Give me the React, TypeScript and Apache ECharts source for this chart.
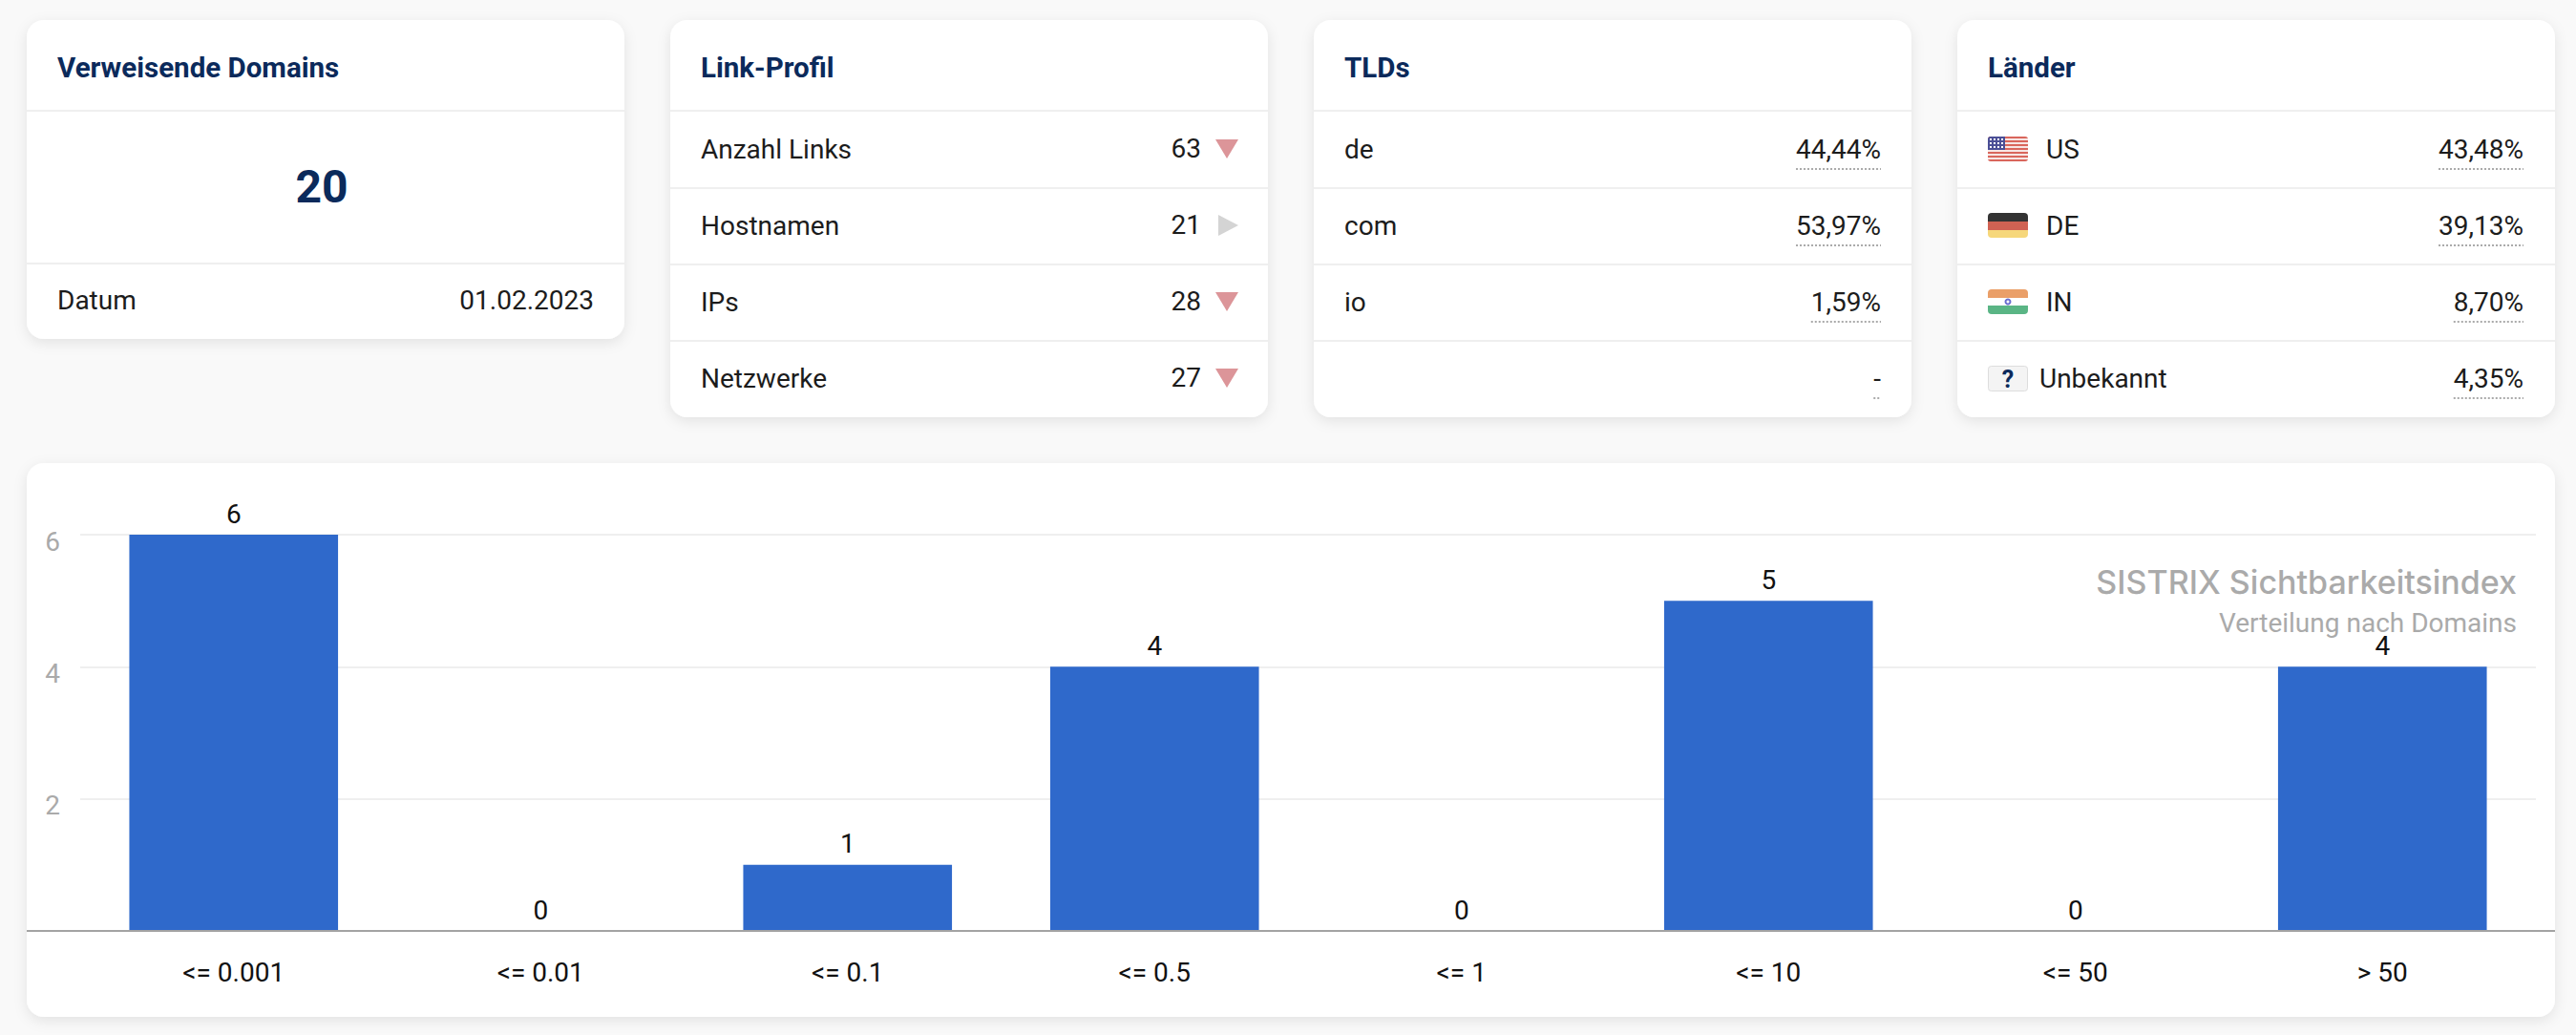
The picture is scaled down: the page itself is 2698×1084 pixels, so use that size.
import React, { useEffect, useRef } from "react";
import * as echarts from "echarts";

const W = 2698;
const H = 1084;

// --- Data ---
const categories = ["<= 0.001", "<= 0.01", "<= 0.1", "<= 0.5", "<= 1", "<= 10", "<= 50", "> 50"];
const domainCounts = [6, 0, 1, 4, 0, 5, 0, 4];
const linkLabels = ["Anzahl Links", "Hostnamen", "IPs", "Netzwerke"];
const linkValues = ["63", "21", "28", "27"];
const linkTrends = ["down", "flat", "down", "down"];
const tldLabels = ["de", "com", "io", ""];
const tldValues = ["44,44%", "53,97%", "1,59%", "-"];
const countryLabels = ["US", "DE", "IN", "Unbekannt"];
const countryValues = ["43,48%", "39,13%", "8,70%", "4,35%"];

const FONT = "Roboto";
const NAVY = "#0b2a5b";
const TEXT = "#1c1c1c";
const BORDER = "#efefef";
const Z_BG = -10;
const Z_FG = -5;
const BODY = 28;
const HEAD = 29.5;

const measure = (text: string, size: number) => {
  const ctx = document.createElement("canvas").getContext("2d")!;
  ctx.font = `${size}px ${FONT}`;
  return ctx.measureText(text).width;
};

const txt = (text: string, x: number, y: number, size: number, fill: string, align = "left", weight: any = 400) => ({
  type: "text",
  x,
  y,
  z: Z_FG,
  silent: true,
  style: { text, x: 0, y: 0, fontFamily: FONT, fontSize: size, fontWeight: weight, fill, align, verticalAlign: "middle" },
});

const hline = (x1: number, x2: number, y: number, stroke = BORDER, lineWidth = 2, z = Z_FG, lineDash?: number[]) => ({
  type: "line",
  z,
  silent: true,
  shape: { x1, y1: y, x2, y2: y },
  style: { stroke, lineWidth, lineDash },
});

const card = (x: number, y: number, w: number, h: number) => ({
  type: "rect",
  z: Z_BG,
  silent: true,
  shape: { x, y, width: w, height: h, r: 18 },
  style: { fill: "#ffffff", shadowBlur: 14, shadowColor: "rgba(0,0,0,0.09)", shadowOffsetY: 4 },
});

const box = (x: number, y: number, w: number, h: number, fill: string, r: any = 0, extra: any = {}) => ({
  type: "rect",
  z: Z_FG,
  silent: true,
  shape: { x, y, width: w, height: h, r },
  style: { fill, ...extra },
});

const tri = (points: number[][], fill: string) => ({
  type: "polygon",
  z: Z_FG,
  silent: true,
  shape: { points },
  style: { fill },
});

const rowY = [156, 236, 316, 396];
const rowLines = [197, 277, 357];

const pctCell = (value: string, right: number, y: number) => {
  const width = measure(value, BODY);
  return [
    txt(value, right, y + 0.5, BODY, TEXT, "right"),
    hline(right - width, right, y + 21, "#aaaaaa", 2, Z_FG, [2, 2]),
  ];
};

const flag = (kind: string, x: number, cy: number) => {
  const y = cy - 13;
  const w = 42;
  const h = 26;
  const out: any[] = [];
  if (kind === "US") {
    out.push(box(x, y, w, h, "#d9665c", 3));
    for (let i = 1; i < 13; i += 2) out.push(box(x, y + i * 2, w, 2, "#f7e6e4"));
    out.push(box(x, y, 18, 14, "#4b4f96", [3, 0, 0, 0]));
    for (let r = 0; r < 3; r++)
      for (let c = 0; c < 4; c++)
        out.push(box(x + 2 + c * 4, y + 2 + r * 4, 2, 2, "#ffffff"));
  } else if (kind === "DE") {
    out.push(box(x, y, w, 9, "#333333", [4, 4, 0, 0]));
    out.push(box(x, y + 9, w, 9, "#d06253"));
    out.push(box(x, y + 18, w, 8, "#f6d77b", [0, 0, 4, 4]));
  } else if (kind === "IN") {
    out.push(box(x, y, w, 9, "#ea9f68", [4, 4, 0, 0]));
    out.push(box(x, y + 9, w, 9, "#ffffff"));
    out.push(box(x, y + 17, w, 9, "#5ab585", [0, 0, 4, 4]));
    out.push({
      type: "circle",
      z: Z_FG,
      silent: true,
      shape: { cx: x + w / 2, cy: y + 13, r: 2.5 },
      style: { fill: "#fff", stroke: "#6a6fd0", lineWidth: 2 },
    });
  } else {
    out.push(box(x + 0.5, y + 0.5, w - 1, h, "#f4f4f4", 3, { stroke: "#dddddd", lineWidth: 1 }));
    out.push(txt("?", x + w / 2, y + 14, 25, NAVY, "center", 700));
  }
  return out;
};

const buildGraphics = () => {
  const els: any[] = [];
  const topCards = [
    [28, 626, 334],
    [702, 626, 416],
    [1376, 626, 416],
    [2050, 626, 416],
  ];
  topCards.forEach(([x, w, h]) => {
    els.push(card(x, 21, w, h));
    els.push(hline(x, x + w, 116));
  });
  els.push(card(28, 485, 2648, 580));

  // Card titles
  els.push(txt("Verweisende Domains", 60, 71, HEAD, NAVY, "left", 700));
  els.push(txt("Link-Profil", 734, 71, HEAD, NAVY, "left", 700));
  els.push(txt("TLDs", 1408, 71, HEAD, NAVY, "left", 700));
  els.push(txt("Länder", 2082, 71, HEAD, NAVY, "left", 700));

  // Card 1
  els.push(txt("20", 337, 195, 48, NAVY, "center", 700));
  els.push(hline(28, 654, 276));
  els.push(txt("Datum", 60, 314.5, BODY, TEXT));
  els.push(txt("01.02.2023", 622, 314.5, BODY, TEXT, "right"));

  // Row dividers
  [702, 1376, 2050].forEach((x) => rowLines.forEach((y) => els.push(hline(x, x + 626, y))));

  // Link-Profil
  linkLabels.forEach((label, i) => {
    const y = rowY[i];
    els.push(txt(label, 734, y + 0.5, BODY, TEXT));
    els.push(txt(linkValues[i], 1258, y - 0.5, BODY, TEXT, "right"));
    if (linkTrends[i] === "down") {
      els.push(tri([[1273, y - 10], [1297, y - 10], [1285, y + 10]], "#dc9599"));
    } else {
      els.push(tri([[1276, y - 11], [1297, y], [1276, y + 11]], "#d4d4d4"));
    }
  });

  // TLDs
  tldLabels.forEach((label, i) => {
    const y = rowY[i];
    if (label) els.push(txt(label, 1408, y + 0.5, BODY, TEXT));
    els.push(...pctCell(tldValues[i], 1970, y));
  });

  // Countries
  countryLabels.forEach((label, i) => {
    const y = rowY[i];
    els.push(...flag(label, 2082, y));
    els.push(txt(label, i === 3 ? 2136 : 2143, y + 0.5, BODY, TEXT));
    els.push(...pctCell(countryValues[i], 2643, y));
  });

  // Baseline across the whole chart card
  els.push({ ...hline(28, 2676, 975, "#a3a3a3", 2), z: 5 });
  return els;
};

export default function App() {
  const ref = useRef<HTMLDivElement>(null);
  useEffect(() => {
    document.body.style.margin = "0";
    document.body.style.background = "#f9f9f9";
    const chart = echarts.init(ref.current!, undefined, { renderer: "svg", width: W, height: H });
    chart.setOption({
      animation: false,
      backgroundColor: "#f9f9f9",
      title: [
        {
          text: "SISTRIX Sichtbarkeitsindex",
          right: 62,
          top: 592,
          padding: 0,
          textStyle: { fontFamily: "Inter", fontWeight: 500, fontSize: 34, color: "#aaaaaa" },
        },
        {
          text: "Verteilung nach Domains",
          right: 62,
          top: 638,
          padding: 0,
          textStyle: { fontFamily: FONT, fontWeight: 400, fontSize: 28, color: "#aaaaaa" },
        },
      ],
      grid: { left: 84, right: 42, top: 560, bottom: 109 },
      xAxis: {
        type: "category",
        data: categories,
        axisLine: { show: true, lineStyle: { color: "#a3a3a3", width: 2 } },
        axisTick: { show: false },
        axisLabel: { color: "#111111", fontFamily: FONT, fontSize: 28, margin: 29, lineHeight: 28 },
      },
      yAxis: {
        type: "value",
        min: 0,
        max: 6,
        interval: 2,
        axisLine: { show: false },
        axisTick: { show: false },
        splitLine: { lineStyle: { color: "#efefef", width: 2 } },
        axisLabel: {
          color: "#aaaaaa",
          fontFamily: FONT,
          fontSize: 28,
          margin: 21,
          verticalAlign: "top",
          lineHeight: 14,
          showMinLabel: false,
          formatter: (v: number) => (v === 0 ? "" : String(v)),
        },
      },
      series: [
        {
          type: "bar",
          data: domainCounts,
          barWidth: "68%",
          itemStyle: { color: "#2f69cb" },
          label: {
            show: true,
            position: "top",
            distance: 8,
            color: "#111111",
            fontFamily: FONT,
            fontSize: 28,
          },
        },
      ],
      graphic: { elements: buildGraphics() },
    });
    return () => chart.dispose();
  }, []);
  return <div ref={ref} style={{ position: "absolute", left: 0, top: 0, width: W, height: H }} />;
}
